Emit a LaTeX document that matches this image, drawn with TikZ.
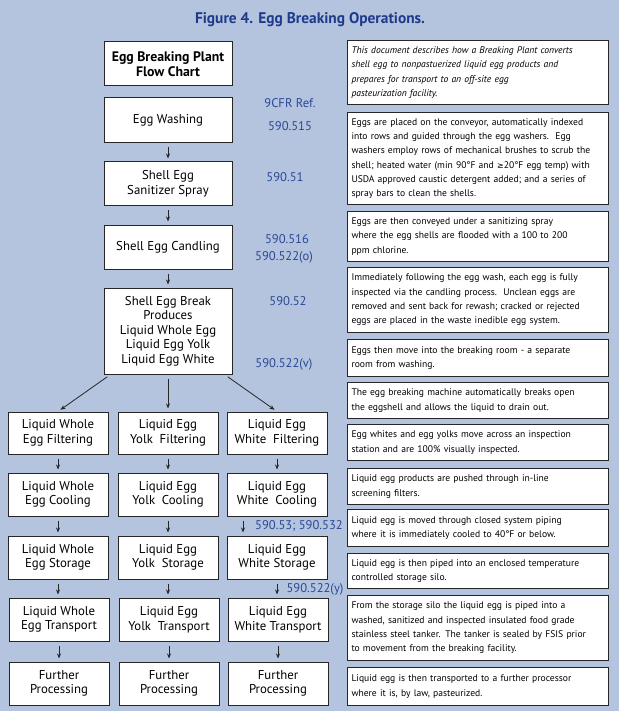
\documentclass[tikz,border=0pt]{standalone}
\usepackage{fontspec}
\setmainfont{PT Sans}
\newfontfamily\symfont{DejaVu Sans}
\usetikzlibrary{arrows.meta}
\definecolor{bgblue}{RGB}{180,196,222}
\definecolor{refblue}{RGB}{42,72,150}
\definecolor{titleblue}{RGB}{30,58,138}

\begin{document}
\begin{tikzpicture}[x=1pt,y=-1pt,
  box/.style={draw=black!85,line width=1pt,fill=white,align=center,inner sep=1pt,font=\fontsize{12.8}{14.6}\selectfont},
  note/.style={draw=black!85,line width=1pt,fill=white,align=left,anchor=north west,text width=253pt,inner xsep=4pt,inner ysep=0pt,font=\fontsize{9.6}{14.3}\selectfont},
  ref/.style={text=refblue,font=\fontsize{12.6}{13}\selectfont},
  arr/.style={-{Stealth[length=5pt,width=4pt]},line width=0.8pt,black!85,shorten <=4pt,shorten >=3pt}]
\fill[bgblue] (0,0) rectangle (619,711);
\node[text=titleblue,font=\fontsize{15.4}{17}\selectfont\bfseries] (title) at (310,20) {Figure 4. Egg Breaking Operations.};
\node[box,minimum width=128pt,minimum height=44pt,font=\fontsize{13.8}{15.5}\selectfont\bfseries] (head) at (168,64) {Egg Breaking Plant\\Flow Chart};
\node[box,minimum width=128pt,minimum height=45pt] (wash) at (168,120.5) {Egg Washing};
\node[box,minimum width=128pt,minimum height=44pt] (spray) at (168,184) {Shell Egg\\Sanitizer Spray};
\node[box,minimum width=128pt,minimum height=44pt] (candle) at (168,247) {\raisebox{3pt}{Shell Egg Candling}};
\node[box,minimum width=128pt,minimum height=86pt] (brk) at (168,331) {Shell Egg Break\\Produces\\Liquid Whole Egg\\Liquid Egg Yolk\\Liquid Egg White};
\node[ref] (r0) at (290,103) {9CFR Ref.};
\node[ref] (r1) at (290,126) {590.515};
\node[ref] (r2) at (285,177) {590.51};
\node[ref] (r3) at (287,239) {590.516};
\node[ref] (r4) at (284,257) {590.522(o)};
\node[ref] (r5) at (288,301) {590.52};
\node[ref] (r6) at (284,364) {590.522(v)};
\node[ref] (r7) at (299,526) {590.53; 590.532};
\node[ref] (r8) at (315,589) {590.522(y)};
\node[box,minimum width=100pt,minimum height=42pt] (wf) at (58,433) {Liquid Whole\\Egg Filtering};
\node[box,minimum width=100pt,minimum height=42pt] (yf) at (168,433) {Liquid Egg\\Yolk\ \ Filtering};
\node[box,minimum width=100pt,minimum height=42pt] (whf) at (277,433) {Liquid Egg\\White\ \ Filtering};
\node[box,minimum width=100pt,minimum height=43pt] (wc) at (58,494.5) {Liquid Whole\\Egg Cooling};
\node[box,minimum width=100pt,minimum height=43pt] (yc) at (168,494.5) {Liquid Egg\\Yolk\ \ Cooling};
\node[box,minimum width=100pt,minimum height=43pt] (whc) at (277,494.5) {Liquid Egg\\White\ \ Cooling};
\node[box,minimum width=100pt,minimum height=43pt] (ws) at (58,557.5) {Liquid Whole\\Egg Storage};
\node[box,minimum width=100pt,minimum height=43pt] (ys) at (168,557.5) {Liquid Egg\\Yolk\ \ Storage};
\node[box,minimum width=100pt,minimum height=43pt] (whs) at (277,557.5) {Liquid Egg\\White Storage};
\node[box,minimum width=100pt,minimum height=43pt] (wt) at (59,619.5) {Liquid Whole\\Egg Transport};
\node[box,minimum width=100pt,minimum height=43pt] (yt) at (169,619.5) {Liquid Egg\\Yolk\ \ Transport};
\node[box,minimum width=100pt,minimum height=43pt] (wht) at (278,619.5) {Liquid Egg\\White Transport};
\node[box,minimum width=100pt,minimum height=43pt] (wp) at (59,683.5) {Further\\Processing};
\node[box,minimum width=100pt,minimum height=43pt] (yp) at (169,683.5) {Further\\Processing};
\node[box,minimum width=100pt,minimum height=43pt] (whp) at (278,683.5) {Further\\Processing};
\node[note,minimum height=64pt] (d1) at (347,40) {\itshape This document describes how a Breaking Plant converts\\shell egg to nonpastuerized liquid egg products and\\prepares for transport to an off-site egg\\pasteurization facility.};
\node[note,minimum height=92pt] (d2) at (347,112) {Eggs are placed on the conveyor, automatically indexed\\into rows and guided through the egg washers.\ \ Egg\\washers employ rows of mechanical brushes to scrub the\\shell; heated water (min 90°F and {\symfont\fontsize{8}{10}\selectfont≥}20°F egg temp) with\\USDA approved caustic detergent added; and a series of\\spray bars to clean the shells.};
\node[note,minimum height=50pt] (d3) at (347,211) {Eggs are then conveyed under a sanitizing spray\\where the egg shells are flooded with a 100 to 200\\ppm chlorine.};
\node[note,minimum height=65pt] (d4) at (347,267) {Immediately following the egg wash, each egg is fully\\inspected via the candling process.\ \ Unclean eggs are\\removed and sent back for rewash; cracked or rejected\\eggs are placed in the waste inedible egg system.};
\node[note,minimum height=37pt] (d5) at (347,339) {Eggs then move into the breaking room - a separate\\room from washing.};
\node[note,minimum height=36pt] (d6) at (347,382) {The egg breaking machine automatically breaks open\\the eggshell and allows the liquid to drain out.};
\node[note,minimum height=36pt] (d7) at (347,424) {Egg whites and egg yolks move across an inspection\\station and are 100\% visually inspected.};
\node[note,minimum height=36pt] (d8) at (347,468) {Liquid egg products are pushed through in-line\\screening filters.};
\node[note,minimum height=37pt] (d9) at (347,509) {Liquid egg is moved through closed system piping\\where it is immediately cooled to 40°F or below.};
\node[note,minimum height=35pt] (d10) at (347,553) {Liquid egg is then piped into an enclosed temperature\\controlled storage silo.};
\node[note,minimum height=65pt] (d11) at (347,595) {From the storage silo the liquid egg is piped into a\\washed, sanitized and inspected insulated food grade\\stainless steel tanker. The tanker is sealed by FSIS prior\\to movement from the breaking facility.};
\node[note,minimum height=38pt] (d12) at (347,667) {Liquid egg is then transported to a further processor\\where it is, by law, pasteurized.};
\draw[arr] (wash) -- (spray);
\draw[arr] (spray) -- (candle);
\draw[arr] (candle) -- (brk);
\draw[arr] ([xshift=7pt]brk.south west) -- (wf.north);
\draw[arr] (brk) -- (yf);
\draw[arr] ([xshift=-8pt]brk.south east) -- (whf.north);
\draw[arr] (wf) -- (wc);
\draw[arr] (yf) -- (yc);
\draw[arr] (whf) -- (whc);
\draw[arr] (wc) -- (ws);
\draw[arr] (yc) -- (ys);
\draw[arr] ([xshift=-34pt]whc.south) -- ([xshift=-34pt]whs.north);
\draw[arr] (ws.south) -- (ws.south |- wt.north);
\draw[arr] (ys.south) -- (ys.south |- yt.north);
\draw[arr] (whs.south) -- (whs.south |- wht.north);
\draw[arr] (wt) -- (wp);
\draw[arr] (yt) -- (yp);
\draw[arr] (wht) -- (whp);
\end{tikzpicture}
\end{document}
